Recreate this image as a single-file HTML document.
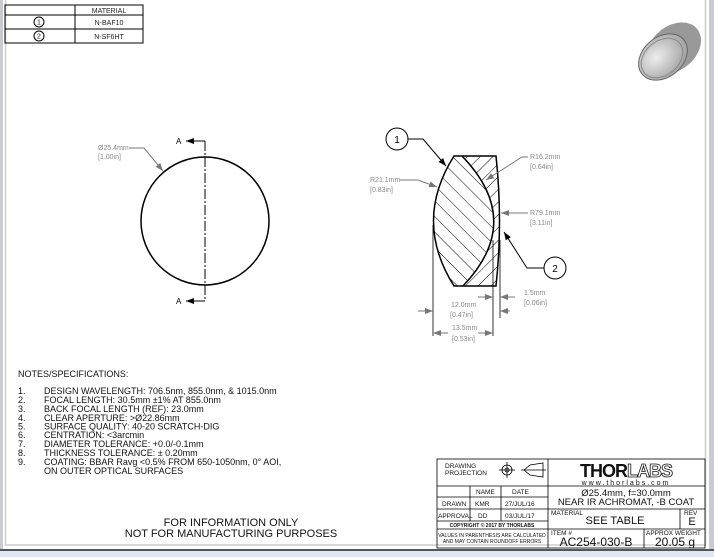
<!DOCTYPE html>
<html><head><meta charset="utf-8"><style>
html,body{margin:0;padding:0;background:#c8ccd2;}
svg{display:block;font-family:"Liberation Sans",sans-serif;}
</style></head><body>
<svg width="714" height="557" viewBox="0 0 714 557" xmlns="http://www.w3.org/2000/svg">
<defs>
<pattern id="h1" patternUnits="userSpaceOnUse" width="11" height="11" patternTransform="rotate(-45)"><line x1="0" y1="0" x2="0" y2="11" stroke="#000" stroke-width="1"/></pattern>
<pattern id="h2" patternUnits="userSpaceOnUse" width="9" height="9" patternTransform="rotate(45)"><line x1="0" y1="0" x2="0" y2="9" stroke="#000" stroke-width="1"/></pattern>
<marker id="ar" markerWidth="8" markerHeight="6" refX="8" refY="3" orient="auto" markerUnits="userSpaceOnUse"><path d="M0,0 L8,3 L0,6z" fill="#000"/></marker>
<marker id="ag" markerWidth="8" markerHeight="6" refX="8" refY="3" orient="auto" markerUnits="userSpaceOnUse"><path d="M0,0 L8,3 L0,6z" fill="#777"/></marker>
<radialGradient id="g1" cx="0.4" cy="0.4" r="0.7"><stop offset="0" stop-color="#eee"/><stop offset="1" stop-color="#999"/></radialGradient>
</defs>
<rect x="0" y="0" width="714" height="557" fill="#c8ccd2"/>
<rect x="3" y="0" width="706" height="550" fill="#fff"/>
<rect x="5.5" y="-1" width="700" height="546" fill="none" stroke="#ccc" stroke-width="1.5"/>
<rect x="0" y="550" width="714" height="7" fill="#dfe8f2"/>
<line x1="0" y1="550" x2="714" y2="550" stroke="#555" stroke-width="2"/>

<g stroke="#000" stroke-width="1" fill="none">
<rect x="5" y="5" width="138" height="38"/>
<line x1="75" y1="5" x2="75" y2="43"/>
<line x1="5" y1="15" x2="143" y2="15"/>
<line x1="5" y1="29" x2="143" y2="29"/>
<circle cx="39" cy="22" r="5"/><circle cx="39" cy="36" r="5"/>
</g>
<g font-size="7" fill="#222" text-anchor="middle">
<text x="109" y="13">MATERIAL</text>
<text x="109" y="25">N-BAF10</text>
<text x="109" y="39">N-SF6HT</text>
<text x="39" y="24.5">1</text>
<text x="39" y="38.5">2</text>
</g>

<g>
<ellipse cx="674" cy="48" rx="30" ry="22" fill="#999" transform="rotate(-40 674 48)"/>
<ellipse cx="663" cy="57" rx="27" ry="20" fill="url(#g1)" stroke="#666" transform="rotate(-40 663 57)"/>
<ellipse cx="662" cy="58" rx="23" ry="17" fill="none" stroke="#888" transform="rotate(-40 662 58)"/>
</g>

<circle cx="205" cy="221" r="64" fill="none" stroke="#000" stroke-width="1.5"/>
<line x1="205" y1="141" x2="205" y2="301" stroke="#000" stroke-width="1" stroke-dasharray="10,2,2,2"/>
<line x1="205" y1="141" x2="186" y2="141" stroke="#000" marker-end="url(#ar)"/>
<line x1="205" y1="301" x2="186" y2="301" stroke="#000" marker-end="url(#ar)"/>
<text x="176" y="144" font-size="8">A</text>
<text x="176" y="304" font-size="8">A</text>
<text x="98" y="150" font-size="7" fill="#888">Ø25.4mm</text>
<text x="98" y="159" font-size="7" fill="#888">[1.00in]</text>
<polyline points="129,148 144,148 163,171" fill="none" stroke="#777" marker-end="url(#ag)"/>

<path d="M462,156 L496,156 Q503,221 496,286 L463,286 Q525,221 462,156Z" fill="url(#h2)"/>
<path d="M454,156 L462,156 Q525,221 463,286 L454,286 Q413,221 454,156Z" fill="url(#h1)"/>
<path d="M454,156 L496,156 Q503,221 496,286 L454,286 Q413,221 454,156Z" fill="none" stroke="#000" stroke-width="1.5"/>
<path d="M462,156 Q525,221 463,286" fill="none" stroke="#000" stroke-width="1.5"/>
<circle cx="397" cy="139" r="11" fill="#fff" stroke="#000"/>
<text x="397" y="143" font-size="10" text-anchor="middle">1</text>
<polyline points="408,139 423,139 446,166" fill="none" stroke="#000" marker-end="url(#ar)"/>
<circle cx="555" cy="268" r="11" fill="#fff" stroke="#000"/>
<text x="555" y="272" font-size="10" text-anchor="middle">2</text>
<polyline points="544,268 527,268 504,232" fill="none" stroke="#000" marker-end="url(#ar)"/>
<g font-size="7" fill="#888">
<text x="530" y="159">R16.2mm</text><text x="530" y="169">[0.64in]</text>
<text x="370" y="182">R21.1mm</text><text x="370" y="192">[0.83in]</text>
<text x="530" y="215">R79.1mm</text><text x="530" y="225">[3.11in]</text>
<text x="524" y="295">1.5mm</text><text x="524" y="305">[0.06in]</text>
<text x="451" y="307">12.0mm</text><text x="450" y="317">[0.47in]</text>
<text x="452" y="330">13.5mm</text><text x="452" y="341">[0.53in]</text>
</g>
<polyline points="528,157 522,157 486,180" fill="none" stroke="#777" marker-end="url(#ag)"/>
<polyline points="400,180 418,180 437,187" fill="none" stroke="#777" marker-end="url(#ag)"/>
<line x1="528" y1="213" x2="501" y2="213" stroke="#777" marker-end="url(#ag)"/>
<g stroke="#000" stroke-width="0.8">
<line x1="433" y1="225" x2="433" y2="336"/>
<line x1="493" y1="240" x2="493" y2="336"/>
<line x1="500" y1="240" x2="500" y2="318"/>
</g>
<g stroke="#777" fill="none">
<line x1="478" y1="297" x2="493" y2="297" marker-end="url(#ag)"/>
<line x1="515" y1="297" x2="500" y2="297" marker-end="url(#ag)"/>
<line x1="418" y1="311" x2="433" y2="311" marker-end="url(#ag)"/>
<line x1="510" y1="311" x2="500" y2="311" marker-end="url(#ag)"/>
<line x1="448" y1="333" x2="433" y2="333" marker-end="url(#ag)"/>
<line x1="478" y1="333" x2="493" y2="333" marker-end="url(#ag)"/>
</g>

<g font-size="9" fill="#111">
<text x="18" y="377">NOTES/SPECIFICATIONS:</text>
<text x="18" y="394">1.</text><text x="44" y="394">DESIGN WAVELENGTH: 706.5nm, 855.0nm, &amp; 1015.0nm</text>
<text x="18" y="403">2.</text><text x="44" y="403">FOCAL LENGTH: 30.5mm ±1% AT 855.0nm</text>
<text x="18" y="412">3.</text><text x="44" y="412">BACK FOCAL LENGTH (REF): 23.0mm</text>
<text x="18" y="421">4.</text><text x="44" y="421">CLEAR APERTURE: &gt;Ø22.86mm</text>
<text x="18" y="429.5">5.</text><text x="44" y="429.5">SURFACE QUALITY: 40-20 SCRATCH-DIG</text>
<text x="18" y="438">6.</text><text x="44" y="438">CENTRATION: &lt;3arcmin</text>
<text x="18" y="447">7.</text><text x="44" y="447">DIAMETER TOLERANCE: +0.0/-0.1mm</text>
<text x="18" y="456">8.</text><text x="44" y="456">THICKNESS TOLERANCE: ± 0.20mm</text>
<text x="18" y="465">9.</text><text x="44" y="465">COATING: BBAR Ravg &lt;0.5% FROM 650-1050nm, 0° AOI,</text>
<text x="44" y="474">ON OUTER OPTICAL SURFACES</text>
</g>
<g font-size="11" fill="#111" text-anchor="middle">
<text x="231" y="526">FOR INFORMATION ONLY</text>
<text x="231" y="537">NOT FOR MANUFACTURING PURPOSES</text>
</g>

<g stroke="#000" stroke-width="0.8" fill="none">
<rect x="437" y="459" width="268" height="89"/>
<line x1="548" y1="459" x2="548" y2="548"/>
<line x1="437" y1="486" x2="705" y2="486"/>
<line x1="437" y1="497" x2="548" y2="497"/>
<line x1="437" y1="509" x2="705" y2="509"/>
<line x1="437" y1="521" x2="548" y2="521"/>
<line x1="437" y1="529" x2="705" y2="529"/>
<line x1="470" y1="486" x2="470" y2="521"/>
<line x1="501" y1="486" x2="501" y2="521"/>
<line x1="680" y1="509" x2="680" y2="529"/>
<line x1="644" y1="529" x2="644" y2="548"/>
<circle cx="507" cy="470" r="5"/><circle cx="507" cy="470" r="2"/>
<line x1="499" y1="470" x2="515" y2="470"/><line x1="507" y1="462" x2="507" y2="478"/>
<path d="M524,470 L530,465 L543,463 L543,477 L530,475 Z M521,470 L546,470"/>
</g>
<g fill="#111" font-size="6.5">
<text x="445" y="468">DRAWING</text><text x="445" y="475">PROJECTION</text>
<text x="476" y="494">NAME</text><text x="512" y="494">DATE</text>
<text x="442" y="506">DRAWN</text><text x="475" y="506">KMR</text><text x="505" y="506">27/JUL/16</text>
<text x="438" y="518">APPROVAL</text><text x="478" y="518">DD</text><text x="505" y="518">03/JUL/17</text>
<text x="492" y="527" font-size="5" text-anchor="middle" font-weight="bold">COPYRIGHT © 2017 BY THORLABS</text>
<text x="492" y="537" font-size="5" text-anchor="middle">VALUES IN PARENTHESIS ARE CALCULATED</text>
<text x="492" y="543" font-size="5" text-anchor="middle">AND MAY CONTAIN ROUNDOFF ERRORS</text>
<text x="551" y="515">MATERIAL</text><text x="684" y="515">REV</text>
<text x="551" y="535">ITEM #</text><text x="646" y="535">APPROX WEIGHT</text>
</g>
<text x="626" y="477" font-size="18" font-weight="bold" text-anchor="middle" fill="#111" letter-spacing="-1">THOR<tspan fill="#fff" stroke="#111" stroke-width="0.8">LABS</tspan></text>
<text x="626" y="485" font-size="7" text-anchor="middle" fill="#111" letter-spacing="2">www.thorlabs.com</text>
<text x="626" y="496" font-size="9.5" text-anchor="middle" fill="#111">Ø25.4mm, f=30.0mm</text>
<text x="626" y="505" font-size="9.5" text-anchor="middle" fill="#111">NEAR IR ACHROMAT, -B COAT</text>
<text x="615" y="524" font-size="11" text-anchor="middle" fill="#111">SEE TABLE</text>
<text x="692" y="525" font-size="11" text-anchor="middle" fill="#111">E</text>
<text x="596" y="546" font-size="12" text-anchor="middle" fill="#111">AC254-030-B</text>
<text x="675" y="546" font-size="12" text-anchor="middle" fill="#111">20.05 g</text>
</svg>
</body></html>
